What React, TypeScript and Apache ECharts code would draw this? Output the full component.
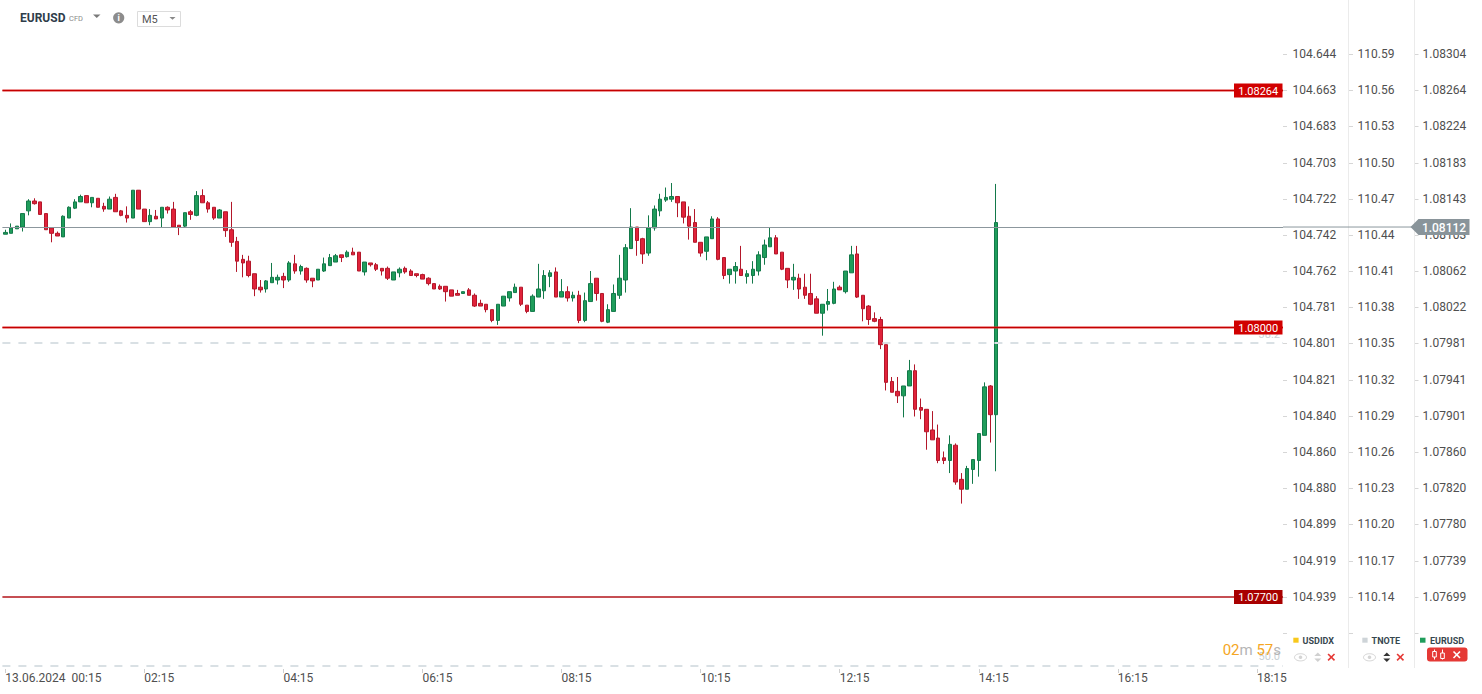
import React, { useEffect, useRef } from "react";
import * as echarts from "echarts";

// ---------- DATA ----------
const openP = [
  1.08104,1.08105,1.08110,1.08112,1.08130,1.08141,1.08140,1.08127,1.08111,1.08105,
  1.08101,1.08122,1.08133,1.08140,1.08147,1.08139,1.08144,1.08135,1.08132,1.08145,
  1.08130,1.08125,1.08122,1.08153,1.08132,1.08118,1.08124,1.08122,1.08134,1.08132,
  1.08114,1.08113,1.08129,1.08125,1.08147,1.08139,1.08134,1.08122,1.08129,1.08109,
  1.08096,1.08076,1.08074,1.08060,1.08045,1.08043,1.08050,1.08053,1.08057,1.08053,
  1.08071,1.08063,1.08066,1.08055,1.08053,1.08063,1.08069,1.08073,1.08081,1.08079,
  1.08084,1.08084,1.08062,1.08072,1.08070,1.08066,1.08066,1.08053,1.08061,1.08066,
  1.08063,1.08060,1.08059,1.08055,1.08049,1.08046,1.08046,1.08042,1.08038,1.08038,
  1.08042,1.08036,1.08027,1.08026,1.08020,1.08008,1.08024,1.08033,1.08039,1.08045,
  1.08025,1.08018,1.08034,1.08041,1.08057,1.08062,1.08034,1.08040,1.08033,1.08036,
  1.08008,1.08029,1.08055,1.08038,1.08006,1.08018,1.08036,1.08053,1.08088,1.08112,
  1.08099,1.08083,1.08111,1.08130,1.08142,1.08143,1.08146,1.08140,1.08124,1.08117,
  1.08095,1.08085,1.08099,1.08121,1.08078,1.08059,1.08063,1.08065,1.08057,1.08058,
  1.08063,1.08078,1.08090,1.08100,1.08084,1.08066,1.08053,1.08055,1.08045,1.08038,
  1.08032,1.08016,1.08026,1.08027,1.08045,1.08040,1.08061,1.08082,1.08036,1.08024,
  1.08010,1.08009,1.07981,1.07940,1.07929,1.07924,1.07935,1.07952,1.07911,1.07909,
  1.07886,1.07877,1.07855,1.07852,1.07869,1.07831,1.07820,1.07842,1.07852,1.07880,
  1.07935,1.07903,
];
const highP = [
  1.08109,1.08116,1.08113,1.08127,1.08143,1.08144,1.08140,1.08127,1.08111,1.08107,
  1.08125,1.08135,1.08143,1.08148,1.08147,1.08145,1.08144,1.08139,1.08146,1.08149,
  1.08131,1.08135,1.08153,1.08153,1.08132,1.08132,1.08131,1.08134,1.08135,1.08140,
  1.08114,1.08128,1.08131,1.08152,1.08154,1.08141,1.08134,1.08132,1.08129,1.08140,
  1.08101,1.08081,1.08080,1.08060,1.08053,1.08053,1.08072,1.08059,1.08061,1.08074,
  1.08081,1.08070,1.08067,1.08055,1.08065,1.08078,1.08082,1.08082,1.08081,1.08086,
  1.08089,1.08084,1.08073,1.08072,1.08072,1.08066,1.08068,1.08062,1.08067,1.08068,
  1.08065,1.08060,1.08060,1.08056,1.08049,1.08048,1.08046,1.08042,1.08042,1.08040,
  1.08044,1.08038,1.08031,1.08026,1.08020,1.08026,1.08035,1.08040,1.08049,1.08045,
  1.08025,1.08037,1.08071,1.08064,1.08064,1.08067,1.08054,1.08046,1.08040,1.08041,
  1.08039,1.08063,1.08055,1.08038,1.08026,1.08048,1.08081,1.08093,1.08133,1.08112,
  1.08100,1.08125,1.08136,1.08149,1.08156,1.08161,1.08146,1.08140,1.08135,1.08132,
  1.08095,1.08101,1.08124,1.08123,1.08078,1.08065,1.08073,1.08091,1.08064,1.08074,
  1.08085,1.08098,1.08111,1.08103,1.08084,1.08066,1.08071,1.08060,1.08060,1.08060,
  1.08035,1.08026,1.08043,1.08051,1.08047,1.08063,1.08091,1.08091,1.08036,1.08025,
  1.08017,1.08012,1.07981,1.07945,1.07945,1.07935,1.07964,1.07959,1.07921,1.07909,
  1.07907,1.07892,1.07862,1.07880,1.07871,1.07838,1.07846,1.07853,1.07882,1.07939,
  1.07936,1.08160,
];
const lowP = [
  1.08104,1.08105,1.08110,1.08107,1.08125,1.08137,1.08126,1.08109,1.08095,1.08102,
  1.08101,1.08122,1.08132,1.08140,1.08139,1.08134,1.08134,1.08129,1.08132,1.08129,
  1.08124,1.08117,1.08122,1.08132,1.08118,1.08114,1.08121,1.08112,1.08127,1.08112,
  1.08103,1.08112,1.08120,1.08124,1.08139,1.08128,1.08120,1.08122,1.08101,1.08090,
  1.08062,1.08056,1.08056,1.08035,1.08039,1.08039,1.08050,1.08048,1.08044,1.08051,
  1.08060,1.08059,1.08050,1.08045,1.08053,1.08062,1.08069,1.08073,1.08073,1.08078,
  1.08081,1.08063,1.08058,1.08068,1.08063,1.08058,1.08053,1.08053,1.08056,1.08060,
  1.08058,1.08056,1.08054,1.08047,1.08043,1.08042,1.08029,1.08035,1.08036,1.08038,
  1.08036,1.08023,1.08024,1.08017,1.08006,1.08003,1.08024,1.08029,1.08039,1.08024,
  1.08016,1.08018,1.08034,1.08032,1.08045,1.08034,1.08034,1.08029,1.08029,1.08005,
  1.08006,1.08029,1.08030,1.08006,1.08005,1.08018,1.08032,1.08039,1.08088,1.08080,
  1.08071,1.08080,1.08108,1.08124,1.08140,1.08140,1.08123,1.08116,1.08098,1.08095,
  1.08079,1.08075,1.08099,1.08075,1.08054,1.08049,1.08049,1.08058,1.08049,1.08049,
  1.08058,1.08070,1.08090,1.08082,1.08064,1.08044,1.08042,1.08032,1.08032,1.08025,
  1.08016,1.07991,1.08019,1.08026,1.08042,1.08038,1.08061,1.08033,1.08007,1.08003,
  1.08006,1.07976,1.07930,1.07928,1.07916,1.07900,1.07935,1.07901,1.07898,1.07864,
  1.07875,1.07849,1.07848,1.07838,1.07825,1.07804,1.07820,1.07826,1.07834,1.07880,
  1.07872,1.07840,
];
const closeP = [
  1.08106,1.08111,1.08113,1.08127,1.08141,1.08138,1.08126,1.08109,1.08105,1.08102,
  1.08124,1.08134,1.08140,1.08146,1.08139,1.08145,1.08134,1.08132,1.08143,1.08129,
  1.08125,1.08122,1.08153,1.08132,1.08118,1.08125,1.08121,1.08134,1.08131,1.08112,
  1.08112,1.08128,1.08126,1.08147,1.08139,1.08132,1.08122,1.08131,1.08108,1.08095,
  1.08074,1.08072,1.08058,1.08043,1.08042,1.08052,1.08056,1.08056,1.08053,1.08072,
  1.08063,1.08068,1.08053,1.08052,1.08065,1.08071,1.08078,1.08080,1.08078,1.08084,
  1.08081,1.08063,1.08073,1.08070,1.08065,1.08063,1.08055,1.08062,1.08065,1.08062,
  1.08058,1.08058,1.08054,1.08049,1.08043,1.08043,1.08040,1.08035,1.08036,1.08040,
  1.08036,1.08024,1.08024,1.08020,1.08008,1.08026,1.08035,1.08040,1.08045,1.08026,
  1.08018,1.08035,1.08043,1.08058,1.08061,1.08034,1.08040,1.08033,1.08036,1.08008,
  1.08030,1.08049,1.08038,1.08007,1.08020,1.08038,1.08055,1.08089,1.08112,1.08097,
  1.08082,1.08111,1.08132,1.08143,1.08145,1.08146,1.08139,1.08123,1.08113,1.08095,
  1.08083,1.08101,1.08121,1.08076,1.08058,1.08065,1.08068,1.08058,1.08060,1.08065,
  1.08081,1.08092,1.08100,1.08082,1.08065,1.08053,1.08056,1.08043,1.08036,1.08026,
  1.08016,1.08026,1.08029,1.08043,1.08042,1.08063,1.08081,1.08034,1.08021,1.08009,
  1.08007,1.07981,1.07939,1.07928,1.07924,1.07935,1.07952,1.07909,1.07908,1.07884,
  1.07875,1.07852,1.07852,1.07870,1.07828,1.07820,1.07843,1.07853,1.07882,1.07934,
  1.07903,1.08117,
];

// right-hand axis tick labels, bottom to top
const usdidxLabels = ["104.939","104.919","104.899","104.880","104.860","104.840","104.821","104.801","104.781","104.762","104.742","104.722","104.703","104.683","104.663","104.644"];
const tnoteLabels = ["110.14","110.17","110.20","110.23","110.26","110.29","110.32","110.35","110.38","110.41","110.44","110.47","110.50","110.53","110.56","110.59"];
const eurusdLabels = ["1.07699","1.07739","1.07780","1.07820","1.07860","1.07901","1.07941","1.07981","1.08022","1.08062","1.08103","1.08143","1.08183","1.08224","1.08264","1.08304"];

const xTickLabels = ["13.06.2024  00:15","02:15","04:15","06:15","08:15","10:15","12:15","14:15","16:15","18:15"];

const redLevels = [1.08264, 1.08];
const lowLevel = 1.077;
const fibValues = [1.07983, 1.076237];
const fibNames = ["38.2", "50.0"];
const lastPrice = 1.08112;

const PRICE_MIN = 1.076198;
const PRICE_MAX = 1.083626;
const SLOTS = 221;

// time categories (5-minute bars from 00:15)
const categories: string[] = [];
for (let i = 0; i < SLOTS; i++) {
  const m = 15 + 5 * i;
  categories.push(String(Math.floor(m / 60)).padStart(2, "0") + ":" + String(m % 60).padStart(2, "0"));
}

const FONT = "Roboto";
const AXIS_TXT = "#4f4f4f";
const AXIS_X = [1283, 1349, 1414.5];

function labelAxis(labels: string[], offset: number, margin: number) {
  return {
    type: "value",
    gridIndex: 1,
    position: "right",
    offset,
    min: -1,
    max: 15,
    interval: 1,
    axisLine: { show: false },
    axisTick: { show: false },
    splitLine: { show: false },
    axisLabel: {
      margin,
      color: AXIS_TXT,
      fontSize: 12,
      fontFamily: FONT,
      formatter: (v: number) => labels[Math.round(v)] ?? "",
    },
  };
}

export default function App() {
  const ref = useRef<HTMLDivElement>(null);
  useEffect(() => {
    const chart = echarts.init(ref.current as HTMLDivElement, null, { renderer: "svg" });
    const data = openP.map((o, i) => [o, closeP[i], lowP[i], highP[i]]);
    const showIdx = (index: number) => index % 24 === 0;

    const markData: any[] = [];
    markData.push({ yAxis: lowLevel, lineStyle: { color: "#b3141a", width: 1.6, type: "solid", opacity: 1 }, label: { show: false } });
    fibValues.forEach((v, i) =>
      markData.push({
        yAxis: v,
        lineStyle: { color: "#d9e0e4", width: 2, type: [8, 8] },
        label: { show: true, position: "insideEndTop", formatter: fibNames[i], color: "#c8d0d4", fontSize: 11, fontFamily: FONT, distance: 3 },
      })
    );
    markData.push({ yAxis: lastPrice, lineStyle: { color: "#8c979d", width: 1, type: "solid" }, label: { show: false } });
    redLevels.forEach((v) => {
      markData.push({ yAxis: v, lineStyle: { color: "rgba(222,40,40,0.5)", width: 3.2, type: "solid" }, label: { show: false } });
      markData.push({ yAxis: v, lineStyle: { color: "#c40000", width: 1.2, type: "solid" }, label: { show: false } });
    });

    chart.setOption({
      animation: false,
      textStyle: { fontFamily: FONT },
      grid: [
        { left: 2.4, right: 199, top: 2, bottom: 25 },
        { left: 2.4, right: 199, top: 54, bottom: 61.1 },
      ],
      xAxis: [
        {
          type: "category",
          gridIndex: 0,
          data: categories,
          boundaryGap: true,
          axisLine: { show: false },
          axisTick: { show: true, interval: showIdx, alignWithLabel: true, length: 4, lineStyle: { color: "#cfcfcf" } },
          axisLabel: {
            interval: showIdx,
            align: "left",
            margin: 3,
            color: AXIS_TXT,
            fontSize: 12,
            fontFamily: FONT,
            formatter: (value: string, index: number) => (index === 0 ? xTickLabels[0] : value),
          },
          splitLine: { show: false },
        },
        {
          type: "value", gridIndex: 1, show: false, min: 0, max: 1,
          axisLine: { show: false, onZero: false }, axisTick: { show: false }, axisLabel: { show: false }, splitLine: { show: false },
        },
      ],
      yAxis: [
        {
          type: "value", gridIndex: 0, min: PRICE_MIN, max: PRICE_MAX, show: false,
          axisLine: { show: false }, axisTick: { show: false }, axisLabel: { show: false }, splitLine: { show: false },
        },
        labelAxis(usdidxLabels, 0, 9.5),
        labelAxis(tnoteLabels, 66, 8.5),
        labelAxis(eurusdLabels, 131.5, 8),
      ],
      series: [
        {
          type: "candlestick",
          xAxisIndex: 0,
          yAxisIndex: 0,
          data,
          barWidth: 4,
          itemStyle: {
            color: "#1f9d5b",
            color0: "#e0233a",
            borderColor: "#13794a",
            borderColor0: "#b3172a",
            borderWidth: 1,
          },
          markLine: { silent: true, precision: 6, symbol: ["none", "none"], animation: false, data: markData },
        },
      ],
    });

    const yOf = (v: number) => chart.convertToPixel({ yAxisIndex: 0 }, v) as number;
    const g: any[] = [];
    const txt = (x: number, y: number, text: string, style: any, z = 50) => ({
      type: "text",
      x,
      y,
      z,
      style: { text, fontFamily: FONT, verticalAlign: "middle", ...style },
    });

    // axis ticks of the three right-hand scales, placed by each axis' own scale
    for (let k = 0; k < 3; k++) {
      for (let i = -1; i <= 15; i++) {
        const y = Math.round(chart.convertToPixel({ yAxisIndex: k + 1 }, i) as number) + 0.5;
        g.push({ type: "line", shape: { x1: AXIS_X[k], y1: y, x2: AXIS_X[k] + 4, y2: y }, style: { stroke: "#d6d6d6", lineWidth: 1 } });
      }
    }

    // header
    g.push(txt(20, 18, "EURUSD", { fill: "#2f3d4a", fontSize: 12, fontWeight: "bold" }));
    g.push(txt(69, 18.5, "CFD", { fill: "#8a8a8a", fontSize: 7.5 }));
    g.push({ type: "polygon", shape: { points: [[93, 14.5], [100.5, 14.5], [96.75, 18]] }, style: { fill: "#7a7a7a" } });
    g.push({ type: "circle", shape: { cx: 118.7, cy: 17.8, r: 5.6 }, style: { fill: "#8c8c8c" } });
    g.push(txt(118.7, 18.2, "i", { fill: "#fff", fontSize: 9, fontWeight: "bold", align: "center" }));
    g.push({ type: "rect", shape: { x: 137.5, y: 11.5, width: 43, height: 15 }, style: { fill: "#fff", stroke: "#dcdcdc", lineWidth: 1 } });
    g.push(txt(142, 19.5, "M5", { fill: "#555", fontSize: 11 }));
    g.push({ type: "polygon", shape: { points: [[169.5, 17], [175.5, 17], [172.5, 19.8]] }, style: { fill: "#888" } });

    // axis separators
    [1348.5, 1414.5].forEach((x) =>
      g.push({ type: "line", shape: { x1: x, y1: 0, x2: x, y2: 668 }, style: { stroke: "#ebebeb", lineWidth: 1 } })
    );

    // level price boxes
    const boxes = [
      { v: redLevels[0], bg: "#d10000" },
      { v: redLevels[1], bg: "#d10000" },
      { v: lowLevel, bg: "#a80000" },
    ];
    boxes.forEach((b) => {
      const y = yOf(b.v);
      g.push({ type: "rect", z: 100, shape: { x: 1234, y: y - 7, width: 48.5, height: 14 }, style: { fill: b.bg } });
      g.push(txt(1258.2, y + 0.5, b.v.toFixed(5), { fill: "#fff", fontSize: 11, align: "center" }, 101));
    });

    // current price tag
    const yl = yOf(lastPrice);
    g.push({ type: "line", shape: { x1: 1283, y1: yl, x2: 1412, y2: yl }, style: { stroke: "#8c979d", lineWidth: 1 } });
    g.push({
      type: "polygon",
      z: 100,
      shape: { points: [[1410.5, yl], [1418.5, yl - 8], [1469.5, yl - 8], [1469.5, yl + 8], [1418.5, yl + 8]] },
      style: { fill: "#89949a" },
    });
    g.push(txt(1444, yl + 0.5, lastPrice.toFixed(5), { fill: "#fff", fontSize: 12, fontWeight: 500, align: "center" }, 101));

    // countdown
    g.push({
      type: "text",
      x: 1281,
      y: 649.5,
      z: 60,
      style: {
        text: "{o|02}{g|m} {o|57}{g|s}",
        align: "right",
        verticalAlign: "middle",
        fontFamily: FONT,
        fontSize: 15,
        rich: {
          o: { fill: "#f5a623", fontSize: 15, fontFamily: FONT },
          g: { fill: "#b5b5b5", fontSize: 15, fontFamily: FONT },
        },
      },
    });

    // legend blocks
    const legend = [
      { x: 1293.3, color: "#f8c81c", name: "USDIDX", arrows: "#d0d0d0" },
      { x: 1362.3, color: "#ced4d8", name: "TNOTE", arrows: "#333" },
    ];
    legend.forEach((l) => {
      g.push({ type: "rect", shape: { x: l.x, y: 637.7, width: 5.3, height: 5 }, style: { fill: l.color } });
      g.push(txt(l.x + 9.3, 640.7, l.name, { fill: "#37474f", fontSize: 9, fontWeight: "bold" }));
      const ex = l.x + 7.2;
      g.push({ type: "ellipse", shape: { cx: ex, cy: 657.3, rx: 6, ry: 3.6 }, style: { fill: "none", stroke: "#d4d4d4", lineWidth: 1 } });
      g.push({ type: "circle", shape: { cx: ex, cy: 657.3, r: 1.8 }, style: { fill: "#d4d4d4" } });
      const ax = l.x + 24.5;
      g.push({ type: "polygon", shape: { points: [[ax - 3.5, 656], [ax + 3.5, 656], [ax, 652.5]] }, style: { fill: l.arrows } });
      g.push({ type: "polygon", shape: { points: [[ax - 3.5, 658.5], [ax + 3.5, 658.5], [ax, 662]] }, style: { fill: l.arrows } });
      const cx = l.x + 38;
      g.push({ type: "line", shape: { x1: cx - 3.2, y1: 654, x2: cx + 3.2, y2: 660.4 }, style: { stroke: "#e53935", lineWidth: 1.6 } });
      g.push({ type: "line", shape: { x1: cx + 3.2, y1: 654, x2: cx - 3.2, y2: 660.4 }, style: { stroke: "#e53935", lineWidth: 1.6 } });
    });
    g.push({ type: "rect", shape: { x: 1420, y: 637.7, width: 5.5, height: 5 }, style: { fill: "#1f9d5b" } });
    g.push(txt(1430, 640.7, "EURUSD", { fill: "#37474f", fontSize: 9, fontWeight: "bold" }));
    g.push({ type: "rect", shape: { x: 1427, y: 647.5, width: 40.5, height: 14, r: 3 }, style: { fill: "#e53935" } });
    // candle icon
    [1434.5, 1442.5].forEach((cx, k) => {
      g.push({ type: "line", shape: { x1: cx, y1: 649.5, x2: cx, y2: 659.5 }, style: { stroke: "#fff", lineWidth: 1 } });
      g.push({ type: "rect", shape: { x: cx - 1.8, y: k === 0 ? 651.5 : 653, width: 3.6, height: 5.5 }, style: { fill: "#e53935", stroke: "#fff", lineWidth: 1 } });
    });
    g.push({ type: "line", shape: { x1: 1453.5, y1: 651.5, x2: 1460, y2: 658 }, style: { stroke: "#fff", lineWidth: 1.6 } });
    g.push({ type: "line", shape: { x1: 1460, y1: 651.5, x2: 1453.5, y2: 658 }, style: { stroke: "#fff", lineWidth: 1.6 } });

    chart.setOption({ graphic: g });

    return () => chart.dispose();
  }, []);

  return (
    <div
      ref={ref}
      style={{ position: "fixed", left: 0, top: 0, width: 1482, height: 694, background: "#fff" }}
    />
  );
}
